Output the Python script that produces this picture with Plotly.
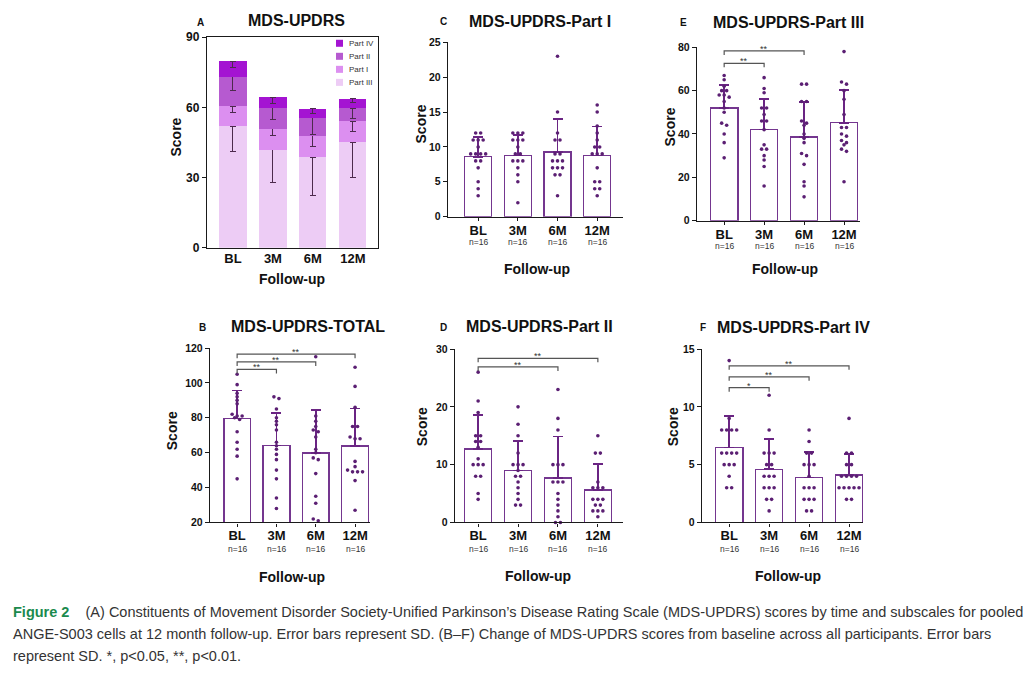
import plotly.graph_objects as go

W, H = 1033, 676
FONT = "Liberation Sans, Arial, Helvetica, sans-serif"

# ---------------- data ----------------
categories = ["BL", "3M", "6M", "12M"]
n_per_group = [16, 16, 16, 16]

part1_mean = [8.6, 8.8, 9.3, 8.8]
part1_sd = [2.8, 2.9, 4.7, 4.1]
part2_mean = [12.7, 9.0, 7.7, 5.6]
part2_sd = [5.9, 5.1, 7.2, 4.5]
part3_mean = [51.9, 42.0, 38.6, 45.2]
part3_sd = [10.6, 14.2, 16.2, 15.1]
part4_mean = [6.5, 4.6, 3.9, 4.1]
part4_sd = [2.7, 2.6, 2.2, 1.8]
total_mean = [79.6, 64.2, 59.8, 63.8]
total_sd = [16.1, 18.6, 24.7, 21.5]

part1_points = [
    [12, 12, 11, 11, 11, 10, 9, 9, 9, 9, 8, 8, 7, 5, 4, 3],
    [12, 12, 12, 11, 11, 11, 10, 9, 9, 8, 8, 8, 7, 6, 5, 2],
    [23, 15, 12, 11, 11, 9, 9, 8, 8, 8, 7, 7, 7, 6, 6, 3],
    [16, 15, 13, 12, 11, 10, 10, 9, 9, 9, 7, 5, 5, 4, 4, 3],
]
part2_points = [
    [26, 21, 19, 15, 15, 14, 14, 13, 11, 10, 10, 10, 8, 8, 5, 4],
    [20, 17, 15, 12, 10, 10, 10, 9, 8, 8, 7, 6, 5, 4, 3, 3],
    [23, 18, 16, 10, 10, 10, 7, 7, 7, 5, 4, 3, 2, 1, 0, 0],
    [15, 12, 12, 7, 6, 6, 6, 4, 4, 4, 3, 3, 2, 2, 2, 1],
]
part3_points = [
    [67, 65, 62, 60, 60, 58, 58, 57, 55, 52, 50, 45, 44, 40, 36, 29],
    [66, 61, 59, 52, 52, 49, 46, 46, 42, 35, 33, 33, 30, 28, 25, 16],
    [63, 63, 55, 55, 46, 45, 44, 40, 38, 36, 31, 30, 26, 18, 16, 11],
    [78, 64, 63, 60, 56, 49, 43, 43, 40, 39, 37, 36, 35, 33, 32, 18],
]
part4_points = [
    [14, 9, 8, 8, 8, 8, 6, 6, 6, 6, 5, 5, 5, 4, 3, 3],
    [11, 8, 6, 6, 6, 5, 5, 4, 4, 4, 3, 3, 3, 2, 2, 1],
    [8, 7, 6, 6, 5, 5, 5, 4, 3, 3, 3, 2, 2, 2, 1, 1],
    [9, 6, 6, 5, 5, 4, 4, 4, 4, 3, 3, 3, 3, 3, 2, 2],
]
total_points = [
    [105, 99, 94, 92, 90, 88, 82, 81, 81, 80, 79, 72, 66, 62, 58, 45],
    [92, 91, 85, 80, 78, 76, 73, 66, 64, 62, 59, 56, 50, 45, 34, 28],
    [115, 81, 78, 75, 73, 72, 69, 62, 60, 57, 56, 48, 35, 31, 22, 21],
    [109, 98, 86, 75, 75, 69, 68, 68, 55, 52, 50, 49, 49, 49, 44, 27],
]

# significance comparisons: (group a, group b, bracket level, label)
total_sig = [(0, 1, 107.7, "**"), (0, 2, 112.0, "**"), (0, 3, 116.5, "**")]
part2_sig = [(0, 2, 26.9, "**"), (0, 3, 28.4, "**")]
part3_sig = [(0, 1, 72.6, "**"), (0, 2, 78.3, "**")]
part4_sig = [(0, 1, 11.66, "*"), (0, 2, 12.6, "**"), (0, 3, 13.55, "**")]

stack_names = ["Part III", "Part I", "Part II", "Part IV"]
stack_means = [part3_mean, part1_mean, part2_mean, part4_mean]
stack_sds = [part3_sd, part1_sd, part2_sd, part4_sd]
stack_colors = ["#EDCCF5", "#DC8FF0", "#B65AD0", "#A414D2"]

caption_lines = [
    ("<span style='color:#1B8A4E'><b>Figure 2</b></span>    (A) Constituents of Movement Disorder "
     "Society-Unified Parkinson\u2019s Disease Rating Scale (MDS-UPDRS) scores by time and subscales for pooled"),
    ("ANGE-S003 cells at 12 month follow-up. Error bars represent SD. (B\u2013F) Change of MDS-UPDRS "
     "scores from baseline across all participants. Error bars"),
    "represent SD. *, p<0.05, **, p<0.01.",
]

# ---------------- styling ----------------
BAR_LINE = "#74368F"
ERR_COL = "#6A2483"
DOT_COL = "#5B1F73"
AXIS_COL = "#1a1a1a"
BRACKET_COL = "#555555"

# vertical calibration of the page photograph (measured: image_y = (page_y + 8) * 676 / 692)
PAGE_H_SEEN = 692.0
PAGE_Y_OFF = 8.0


def px_x(px):
    return px / W


def px_y(py):
    yp = py * PAGE_H_SEEN / H - PAGE_Y_OFF
    return 1 - yp / H


xi = list(range(len(categories)))

fig = go.Figure()
layout_axes = {}
shapes = []
annotations = []


def ax_names(idx):
    if idx == 1:
        return "xaxis", "yaxis", "x", "y"
    return f"xaxis{idx}", f"yaxis{idx}", f"x{idx}", f"y{idx}"


def add_axes(idx, box, xr, yr, dtick, xfs, yfs, mirror=False, xticks="outside"):
    x0, y0, x1, y1 = box
    xn, yn, xa, ya = ax_names(idx)
    layout_axes[xn] = dict(
        domain=[px_x(x0), px_x(x1)], range=xr, anchor=ya,
        tickmode="array", tickvals=xi, ticktext=categories,
        ticks=xticks, ticklen=3, tickwidth=1.3, tickcolor=AXIS_COL,
        ticklabelstandoff=-2,
        showline=True, linecolor=AXIS_COL, linewidth=1.4, mirror=mirror,
        showgrid=False, zeroline=False,
        tickfont=dict(family=FONT, size=xfs, color="#111", weight="bold"),
    )
    layout_axes[yn] = dict(
        domain=[px_y(y1), px_y(y0)], range=yr, anchor=xa,
        tick0=0, dtick=dtick, ticks="outside", ticklen=4, tickwidth=1.3,
        tickcolor=AXIS_COL, showline=True, linecolor=AXIS_COL, linewidth=1.4,
        mirror=mirror, showgrid=False, zeroline=False,
        tickfont=dict(family=FONT, size=yfs, color="#111", weight="bold"),
    )
    return xa, ya


def swarm(values, ypu, xpu, thr=3.0, step=5.0):
    order = sorted(range(len(values)), key=lambda i: -values[i])
    groups = []
    for i in order:
        if groups and (values[groups[-1][0]] - values[i]) * ypu <= thr:
            groups[-1].append(i)
        else:
            groups.append([i])
    offs = [0.0] * len(values)
    for g in groups:
        n = len(g)
        for k, i in enumerate(g):
            offs[i] = (k - (n - 1) / 2) * step / xpu
    return offs


def text_ann(text, x, y, size, bold=True, angle=0, color="#111", xanchor="center"):
    annotations.append(dict(
        text=f"<b>{text}</b>" if bold else text, x=px_x(x), y=px_y(y),
        xref="paper", yref="paper", showarrow=False, textangle=angle,
        xanchor=xanchor, yanchor="middle",
        font=dict(family=FONT, size=size, color=color),
    ))


# ---------------- Panel A (stacked) ----------------
boxA = (207, 38, 378, 248)
xaA, yaA = add_axes(1, boxA, [-0.65, 3.63], [0, 90], 30, 13, 12, mirror=True, xticks="")
for name, m, sd, col in zip(stack_names, stack_means, stack_sds, stack_colors):
    fig.add_trace(go.Bar(
        x=xi, y=m, width=0.68, name=name, xaxis=xaA, yaxis=yaA,
        marker=dict(color=col, line=dict(width=0)),
        error_y=dict(type="data", symmetric=False, array=[0] * len(m), arrayminus=sd,
                     color="#4d2a4d", thickness=1, width=3),
        showlegend=False,
    ))
# manual legend (top-down order: Part IV, Part II, Part I, Part III)
for k, j in enumerate(reversed(range(len(stack_names)))):
    cy = 44 + k * 13
    shapes.append(dict(type="rect", xref="paper", yref="paper",
                       x0=px_x(336), x1=px_x(343), y0=px_y(cy + 3.5), y1=px_y(cy - 3.5),
                       fillcolor=stack_colors[j], line=dict(width=0)))
    text_ann(stack_names[j], 347, cy, 8, bold=False, color="#333", xanchor="left")
text_ann("A", 200, 23, 10)
text_ann("MDS-UPDRS", 296, 21, 16)
text_ann("Score", 176, 138, 14, angle=-90)
text_ann("Follow-up", 292, 279, 14)

# ---------------- Panels B-F ----------------
panels = [
    dict(idx=2, box=(448, 43, 623, 217), xr=[-0.76, 3.65], yr=[0, 25], dtick=5,
         mean=part1_mean, sd=part1_sd, pts=part1_points, sig=[],
         letter=("C", 443, 22), title=("MDS-UPDRS-Part I", 540, 22),
         score=(421, 125), follow=(537, 269), noff=25),
    dict(idx=3, box=(697, 48, 860, 221), xr=[-0.68, 3.4], yr=[0, 80], dtick=20,
         mean=part3_mean, sd=part3_sd, pts=part3_points, sig=part3_sig,
         letter=("E", 683, 23), title=("MDS-UPDRS-Part III", 788, 23),
         score=(670, 128), follow=(785, 269), noff=25),
    dict(idx=4, box=(210, 348, 370, 522), xr=[-0.69, 3.38], yr=[20, 120], dtick=20,
         mean=total_mean, sd=total_sd, pts=total_points, sig=total_sig,
         letter=("B", 202, 328), title=("MDS-UPDRS-TOTAL", 308, 327),
         score=(172, 431), follow=(292, 576), noff=26),
    dict(idx=5, box=(455, 349, 623, 522), xr=[-0.58, 3.63], yr=[0, 30], dtick=10,
         mean=part2_mean, sd=part2_sd, pts=part2_points, sig=part2_sig,
         letter=("D", 443, 328), title=("MDS-UPDRS-Part II", 539, 327),
         score=(422, 427), follow=(538, 575), noff=26),
    dict(idx=6, box=(702, 349, 863, 522), xr=[-0.68, 3.35], yr=[0, 15], dtick=5,
         mean=part4_mean, sd=part4_sd, pts=part4_points, sig=part4_sig,
         letter=("F", 703, 328), title=("MDS-UPDRS-Part IV", 793, 328),
         score=(673, 427), follow=(788, 575), noff=26),
]

for p in panels:
    x0, y0, x1, y1 = p["box"]
    xa, ya = add_axes(p["idx"], p["box"], p["xr"], p["yr"], p["dtick"], 13, 10.5)
    ypu = (y1 - y0) / (p["yr"][1] - p["yr"][0])
    xpu = (x1 - x0) / (p["xr"][1] - p["xr"][0])
    fig.add_trace(go.Bar(
        x=xi, y=p["mean"], width=0.68, xaxis=xa, yaxis=ya, showlegend=False,
        marker=dict(color="white", line=dict(color=BAR_LINE, width=1.5)),
        error_y=dict(type="data", symmetric=False, array=p["sd"],
                     arrayminus=[0] * len(p["sd"]), color=ERR_COL, thickness=1.6, width=5),
    ))
    xs, ys = [], []
    for i, vals in enumerate(p["pts"]):
        offs = swarm(vals, ypu, xpu)
        xs += [i + o for o in offs]
        ys += vals
    fig.add_trace(go.Scatter(
        x=xs, y=ys, mode="markers", xaxis=xa, yaxis=ya, showlegend=False,
        marker=dict(color=DOT_COL, size=3.6, line=dict(width=0)), cliponaxis=False,
    ))
    h = 4.0 / ypu
    for (a, b, lvl, lab) in p["sig"]:
        shapes.append(dict(type="path", xref=xa, yref=ya,
                           path=f"M {a},{lvl - h} L {a},{lvl} L {b},{lvl} L {b},{lvl - h}",
                           line=dict(color=BRACKET_COL, width=1.2)))
        annotations.append(dict(text=lab, x=(a + b) / 2, y=lvl, xref=xa, yref=ya,
                                showarrow=False, yanchor="middle", yshift=2,
                                font=dict(family=FONT, size=9, color="#333")))
    for i, n in enumerate(n_per_group):
        annotations.append(dict(text=f"n={n}", x=i, y=px_y(y1 + p["noff"]),
                                xref=xa, yref="paper", showarrow=False, yanchor="middle",
                                font=dict(family=FONT, size=8.5, color="#333")))
    L, lx, ly = p["letter"]
    text_ann(L, lx, ly, 10)
    T, tx, ty = p["title"]
    text_ann(T, tx, ty, 16)
    text_ann("Score", p["score"][0], p["score"][1], 14, angle=-90)
    text_ann("Follow-up", p["follow"][0], p["follow"][1], 14)

# ---------------- caption ----------------
for k, line in enumerate(caption_lines):
    annotations.append(dict(
        text=line, x=px_x(11), y=px_y(611 + k * 22), xref="paper", yref="paper",
        showarrow=False, xanchor="left", yanchor="middle",
        font=dict(family=FONT, size=14.5, color="#333"),
    ))

fig.update_layout(
    width=W, height=H, margin=dict(l=0, r=0, t=0, b=0),
    paper_bgcolor="white", plot_bgcolor="white",
    barmode="stack", bargap=0.3,
    font=dict(family=FONT, color="#111"),
    shapes=shapes, annotations=annotations, showlegend=False,
    **layout_axes,
)

css_fix = (
    "var s=document.createElement('style');"
    "s.innerHTML='html,body{margin:0 !important;padding:0 !important;overflow:hidden;"
    "width:1033px;height:676px;}';"
    "document.head.appendChild(s);"
)
fig.write_html("out.html", config={"displayModeBar": False}, post_script=css_fix)
